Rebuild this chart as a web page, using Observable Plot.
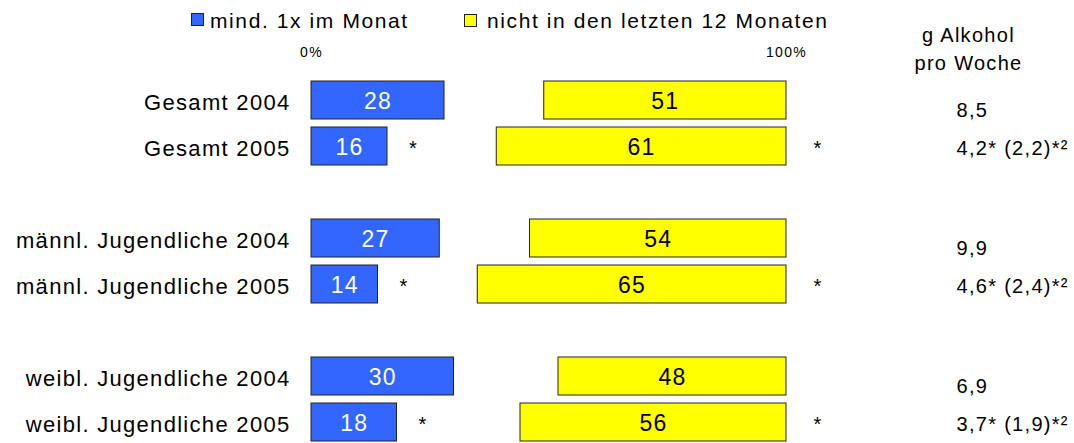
<!DOCTYPE html>
<html>
<head>
<meta charset="utf-8">
<script src="https://cdn.jsdelivr.net/npm/d3@7"></script>
<script src="https://cdn.jsdelivr.net/npm/@observablehq/plot@0.6"></script>
<style>
  body { margin: 0; background: #fff; }
  #wrap { position: relative; width: 1074px; height: 443px; font-family: "Liberation Sans", Arial, sans-serif; }
  #wrap svg { position: absolute; left: 0; top: 0; }
  .lg-box { position: absolute; width: 13px; height: 13px; box-sizing: border-box; border: 1px solid #222; }
  .lg-text { position: absolute; font-size: 21px; line-height: 21px; letter-spacing: 1.6px; color: #000; white-space: nowrap; }
</style>
</head>
<body>
<div id="wrap"></div>
<script>
// ---- data ----
const categories = [
  "Gesamt 2004", "Gesamt 2005",
  "männl. Jugendliche 2004", "männl. Jugendliche 2005",
  "weibl. Jugendliche 2004", "weibl. Jugendliche 2005"
];
const years = [2004, 2005, 2004, 2005, 2004, 2005];
const monthly = [28, 16, 27, 14, 30, 18];          // mind. 1x im Monat (%)
const notInYear = [51, 61, 54, 65, 48, 56];        // nicht in den letzten 12 Monaten (%)
const significant = [false, true, false, true, false, true];
const grams = ["8,5", "4,2* (2,2)*²", "9,9", "4,6* (2,4)*²", "6,9", "3,7* (1,9)*²"];
const rowOrder = [
  "Gesamt 2004", "Gesamt 2005", "gap 1",
  "männl. Jugendliche 2004", "männl. Jugendliche 2005", "gap 2",
  "weibl. Jugendliche 2004", "weibl. Jugendliche 2005"
];
const tickValues = [0, 100];
const tickLabels = ["0%", "100%"];
const legendLabels = ["mind. 1x im Monat", "nicht in den letzten 12 Monaten"];
const colors = ["#3366FF", "#FFFF00"];
const headerText = "g Alkohol\npro Woche";

// ---- table ----
const rows = categories.map((c, i) => ({
  cat: c, year: years[i], monthly: monthly[i], notInYear: notInYear[i],
  sig: significant[i], grams: grams[i]
}));

const stroke = "#222";

const chart = Plot.plot({
  width: 1074,
  height: 443,
  marginLeft: 311,
  marginRight: 288,
  marginTop: 60,
  marginBottom: 0,
  x: { domain: [0, 100] },
  y: { type: "band", domain: rowOrder, range: [76, 446], paddingInner: 0.18, paddingOuter: 0.09 },
  style: { fontFamily: "'Liberation Sans', Arial, sans-serif", background: "transparent", overflow: "visible", color: "#000", letterSpacing: "1.3px" },
  marks: [
    Plot.axisX(tickValues, {
      anchor: "top", tickSize: 0, tickPadding: 4, fontSize: 14, label: null,
      tickFormat: (d) => tickLabels[tickValues.indexOf(d)]
    }),
    Plot.axisY(categories, { tickSize: 0, tickPadding: 21, fontSize: 22, dy: 2, label: null }),
    Plot.barX(rows, { x1: 0, x2: "monthly", y: "cat", fill: colors[0], stroke, strokeWidth: 1 }),
    Plot.barX(rows, { x1: (d) => 100 - d.notInYear, x2: 100, y: "cat", fill: colors[1], stroke, strokeWidth: 1 }),
    Plot.text(rows, { x: (d) => d.monthly / 2, y: "cat", text: (d) => String(d.monthly), fill: "#fff", fontSize: 23, dy: 1 }),
    Plot.text(rows, { x: (d) => 100 - d.notInYear / 2, y: "cat", text: (d) => String(d.notInYear), fill: "#000", fontSize: 23, dy: 1 }),
    Plot.text(rows.filter((d) => d.sig), { x: "monthly", y: "cat", text: () => "*", dx: 26, dy: 2, fontSize: 20, fill: "#000" }),
    Plot.text(rows.filter((d) => d.sig), { frameAnchor: "right", y: "cat", text: () => "*", dx: 36, dy: 2, fontSize: 20, fill: "#000" }),
    Plot.text(rows.filter((d) => d.year === 2004), { frameAnchor: "right", y: "cat", text: "grams", textAnchor: "start", dx: 170, dy: 10, fontSize: 20, fill: "#000" }),
    Plot.text(rows.filter((d) => d.year === 2005), { frameAnchor: "right", y: "cat", text: "grams", textAnchor: "start", dx: 170, dy: 2, fontSize: 20, fill: "#000" }),
    Plot.text([headerText], { frameAnchor: "top-right", textAnchor: "middle", lineAnchor: "top", lineHeight: 1.4, dx: 182, dy: -38, fontSize: 20, fill: "#000" })
  ]
});

const wrap = document.getElementById("wrap");
wrap.appendChild(chart);

// ---- legend (HTML, above the bars) ----
const legendPos = [{ box: 191, text: 210, top: 13 }, { box: 464, text: 487, top: 14 }];
const lg = d3.select(wrap);
legendLabels.forEach((label, i) => {
  lg.append("div").attr("class", "lg-box")
    .style("left", legendPos[i].box + "px").style("top", legendPos[i].top + "px")
    .style("background", colors[i]);
  lg.append("div").attr("class", "lg-text")
    .style("left", legendPos[i].text + "px").style("top", "10px")
    .text(label);
});
</script>
</body>
</html>
